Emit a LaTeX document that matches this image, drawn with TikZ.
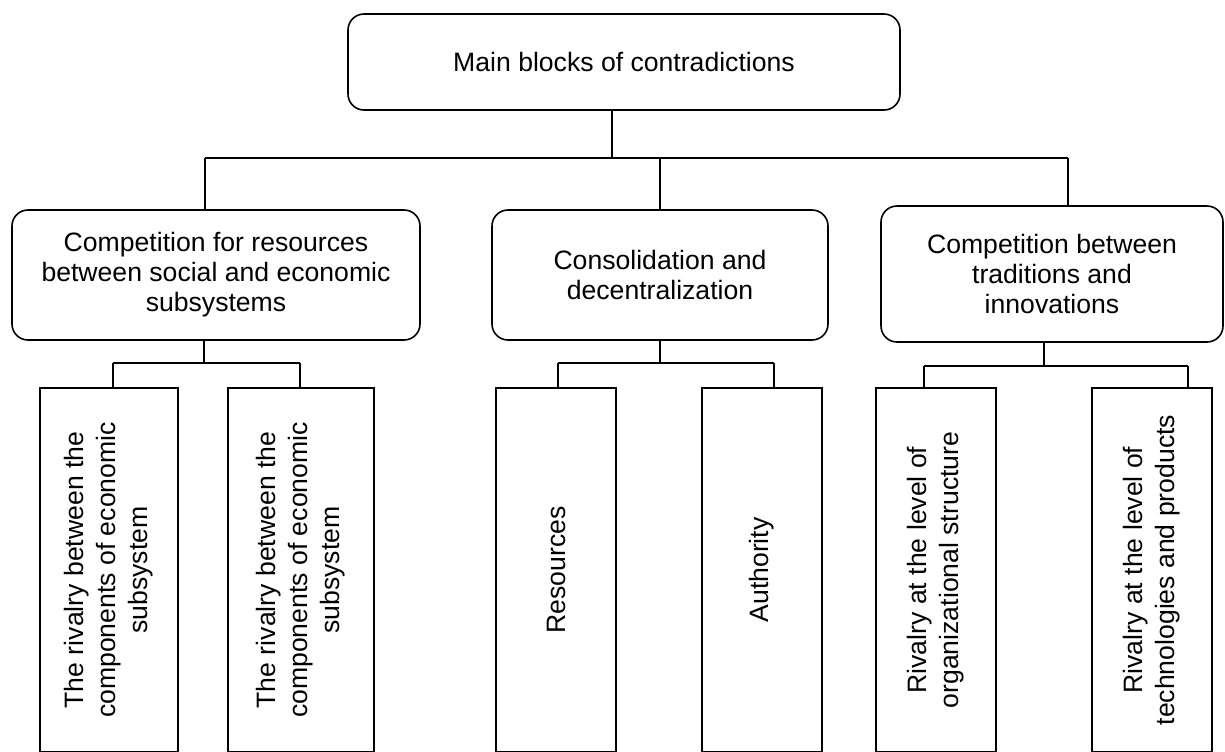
\documentclass[tikz,border=0pt]{standalone}
\usepackage{fontspec}
\setmainfont{Liberation Sans}
\begin{document}
\begin{tikzpicture}[x=0.5pt,y=-0.5pt, line width=0.8pt,
  txt/.style={font=\fontsize{13.3pt}{15pt}\selectfont},
  rbox/.style={draw, rounded corners=8pt, align=center, inner sep=0pt, txt},
  vbox/.style={draw, rotate=90, align=center, inner sep=0pt, minimum width=182pt, font=\fontsize{13.3pt}{16pt}\selectfont}]
\useasboundingbox (0,0) rectangle (1225,751);
% top
\node[rbox, minimum width=276pt, minimum height=48pt] (top) at (624,62) {Main blocks of contradictions};
% middle level
\node[rbox, minimum width=204pt, minimum height=65pt] (b1) at (216,275) {Competition for resources\\between social and economic\\subsystems};
\node[rbox, minimum width=168pt, minimum height=65pt] (b2) at (660,275) {Consolidation and\\decentralization};
\node[rbox, minimum width=171pt, minimum height=68pt] (b3) at (1052,274) {Competition between\\traditions and\\innovations};
% bottom level
\node[vbox, minimum height=69pt] (c1) at (109,570) {The rivalry between the\\components of economic\\subsystem};
\node[vbox, minimum height=73pt] (c2) at (301,570) {The rivalry between the\\components of economic\\subsystem};
\node[vbox, minimum height=60pt] (c3) at (556,570) {Resources};
\node[vbox, minimum height=60pt] (c4) at (762,570) {Authority};
\node[vbox, minimum height=60pt] (c5) at (936,570) {Rivalry at the level of\\organizational structure};
\node[vbox, minimum height=60pt] (c6) at (1152,570) {Rivalry at the level of\\technologies and products};
% first-level connectors
\coordinate (j0) at (612,158);
\coordinate (hl) at (205,158);
\coordinate (hm) at (660,158);
\coordinate (hr) at (1068,158);
\draw (top.south -| j0) -- (j0);
\draw (hl) -- (hr);
\draw (hl) -- (hl |- b1.north);
\draw (hm) -- (hm |- b2.north);
\draw (hr) -- (hr |- b3.north);
% left group
\coordinate (lj) at (204,363);
\coordinate (la) at (113,363);
\coordinate (lb) at (300,363);
\draw (b1.south -| lj) -- (lj);
\draw (la) -- (lb);
\draw (la) -- (la |- c1.east);
\draw (lb) -- (lb |- c2.east);
% middle group
\coordinate (mj) at (660,363);
\coordinate (ma) at (558,363);
\coordinate (mb) at (774,363);
\draw (b2.south -| mj) -- (mj);
\draw (ma) -- (mb);
\draw (ma) -- (ma |- c3.east);
\draw (mb) -- (mb |- c4.east);
% right group
\coordinate (rj) at (1044,366);
\coordinate (ra) at (924,366);
\coordinate (rb) at (1188,366);
\draw (b3.south -| rj) -- (rj);
\draw (ra) -- (rb);
\draw (ra) -- (ra |- c5.east);
\draw (rb) -- (rb |- c6.east);
\end{tikzpicture}
\end{document}
